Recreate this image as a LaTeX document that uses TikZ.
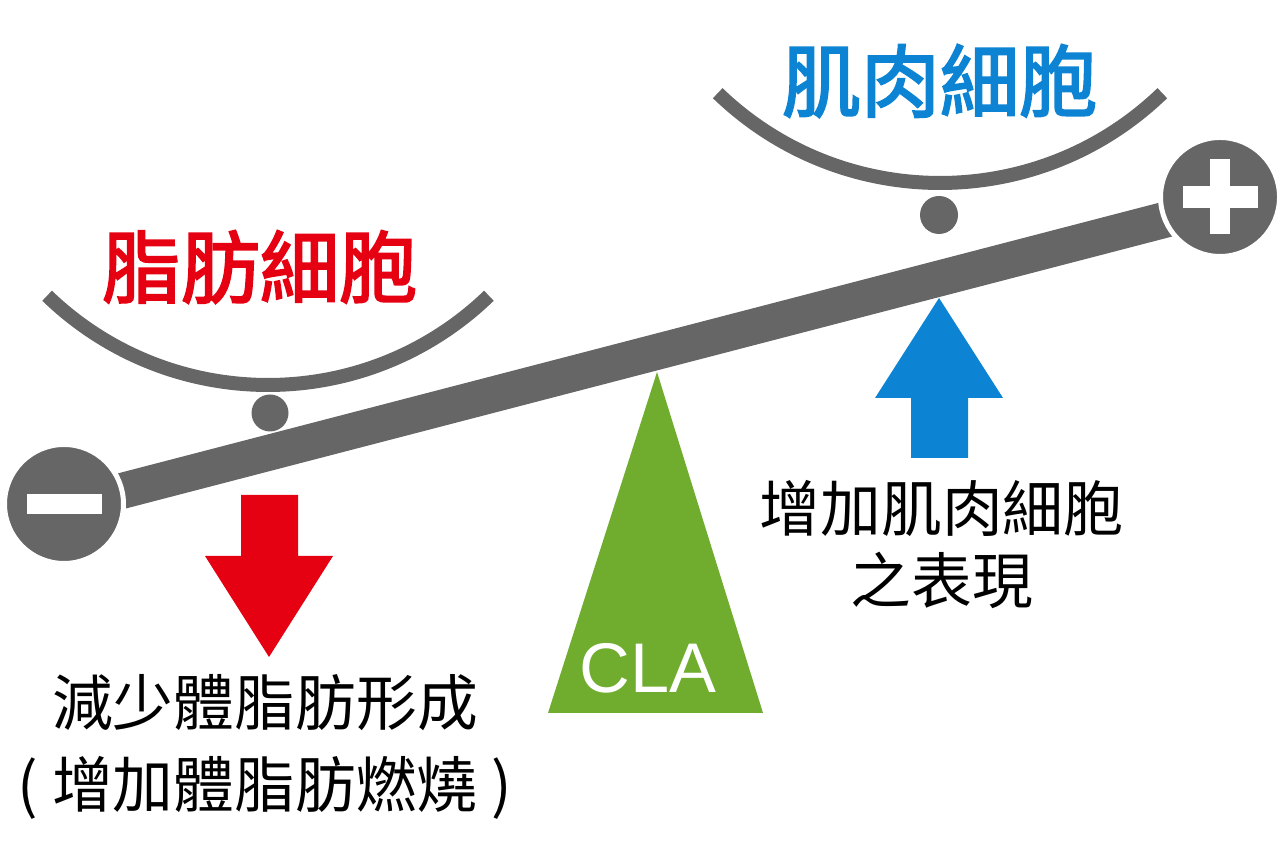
\documentclass[tikz,border=0pt]{standalone}
\usepackage{fontspec}
\usepackage{tikz}
\usetikzlibrary{positioning}
\newfontfamily\cjk{Noto Sans CJK TC}
\newfontfamily\cjkmid{Noto Sans CJK TC}[FakeBold=2.5]
\newfontfamily\latinsans{Liberation Sans}
\definecolor{beamgray}{HTML}{666666}
\definecolor{fatred}{HTML}{E50012}
\definecolor{muscleblue}{HTML}{0D84D3}
\definecolor{clagreen}{HTML}{70AD2E}

\begin{document}
\begin{tikzpicture}[every node/.style={inner sep=0pt},
  pole/.style={circle, fill=beamgray, draw=white, line width=0.05cm, minimum size=1.19cm},
  bowl/.style={draw=beamgray, line width=0.14cm},
  ball/.style={circle, fill=beamgray, minimum size=0.37cm},
  title/.style={font=\cjkmid\fontsize{22.5}{27}\selectfont},
  note/.style={font=\cjk\fontsize{17.3}{21}\selectfont}]
  \useasboundingbox (0,0) rectangle (12.8,8.67);
  % beam and the two ends
  \coordinate (lo) at (0.64,3.61);
  \coordinate (hi) at (12.20,6.615);
  \draw [beamgray, line width=0.36cm] (lo) -- (hi);
  \node [pole] (minus) at (0.64,3.63) {};
  \node [pole] (plus) at (12.20,6.70) {};
  \fill [white] ([shift={(-0.375,-0.1)}]minus.center) rectangle ++(0.75,0.2);
  \fill [white] ([shift={(-0.375,-0.11)}]plus.center) rectangle ++(0.75,0.22);
  \fill [white] ([shift={(-0.1,-0.375)}]plus.center) rectangle ++(0.2,0.75);
  % bowls and balls
  \draw [bowl, shift={(2.68,8.00)}] (226:3.18) arc [start angle=226, end angle=314, radius=3.18];
  \draw [bowl, shift={(9.40,10.04)}] (226:3.20) arc [start angle=226, end angle=314, radius=3.20];
  \node [ball] (fatball) at (2.70,4.54) {};
  \node [ball, minimum size=0.38cm] (muscleball) at (9.39,6.52) {};
  \node [title, text=fatred] (fat) at (2.60,6.00) {脂肪細胞};
  \node [title, text=muscleblue] (muscle) at (9.40,7.86) {肌肉細胞};
  % fulcrum
  \fill [clagreen] (6.57,4.95) -- (7.63,1.54) -- (5.48,1.54) -- cycle;
  \node [font=\latinsans\fontsize{20}{24}\selectfont, text=white] (cla) at (6.48,1.99) {CLA};
  % arrows
  \fill [fatred] (2.41,3.72) -- (2.98,3.72) -- (2.98,3.11) -- (3.33,3.11) -- (2.69,2.10)
    -- (2.05,3.11) -- (2.41,3.11) -- cycle;
  \fill [muscleblue] (9.11,4.09) -- (9.68,4.09) -- (9.68,4.69) -- (10.03,4.69) -- (9.39,5.69)
    -- (8.75,4.69) -- (9.11,4.69) -- cycle;
  % notes
  \node [note] (gain1) at (9.42,3.59) {增加肌肉細胞};
  \node [note, on grid, below=0.72 of gain1] (gain2) {之表現};
  \node [note] (less1) at (2.65,1.64) {減少體脂肪形成};
  \node [note, on grid, below=0.85 of less1] (less2)
    {(\hspace{0.14cm}增加體脂肪燃燒\hspace{0.14cm})};
\end{tikzpicture}
\end{document}
